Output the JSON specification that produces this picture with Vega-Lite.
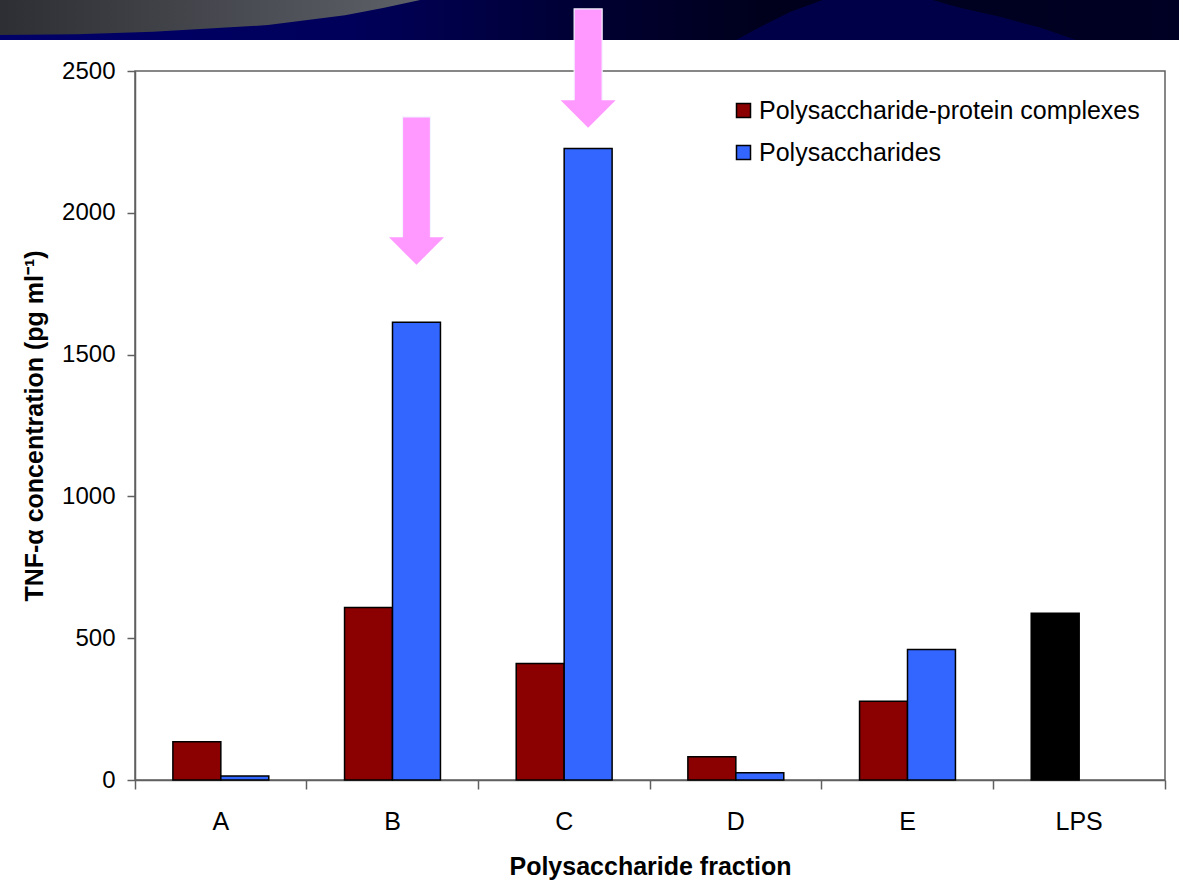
{
  "$schema": "https://vega.github.io/schema/vega-lite/v6.json",
  "width": 1030,
  "height": 709,
  "autosize": {"type": "none"},
  "padding": {"left": 135, "top": 71, "right": 14, "bottom": 101},
  "background": "white",
  "config": {
    "font": "Liberation Sans",
    "view": {"stroke": "#606060", "strokeWidth": 1.5},
    "axis": {
      "domainColor": "#606060", "domainWidth": 1.5,
      "tickColor": "#606060", "tickWidth": 1.5,
      "labelColor": "black", "titleColor": "black",
      "labelFont": "Liberation Sans", "titleFont": "Liberation Sans",
      "grid": false
    }
  },
  "datasets": {
    "bars": [
      {"cat": "A", "slot": "PPC", "series": "Polysaccharide-protein complexes", "value": 135},
      {"cat": "A", "slot": "PS", "series": "Polysaccharides", "value": 14},
      {"cat": "B", "slot": "PPC", "series": "Polysaccharide-protein complexes", "value": 608},
      {"cat": "B", "slot": "PS", "series": "Polysaccharides", "value": 1614},
      {"cat": "C", "slot": "PPC", "series": "Polysaccharide-protein complexes", "value": 411},
      {"cat": "C", "slot": "PS", "series": "Polysaccharides", "value": 2227},
      {"cat": "D", "slot": "PPC", "series": "Polysaccharide-protein complexes", "value": 82},
      {"cat": "D", "slot": "PS", "series": "Polysaccharides", "value": 26},
      {"cat": "E", "slot": "PPC", "series": "Polysaccharide-protein complexes", "value": 278},
      {"cat": "E", "slot": "PS", "series": "Polysaccharides", "value": 460},
      {"cat": "LPS", "slot": "PPC", "series": "LPS", "value": 588}
    ],
    "arrows": [
      {"cat": "B", "slot": "PS", "top": 2338, "base": 1887, "head": 1865},
      {"cat": "C", "slot": "PS", "top": 2719, "base": 2370, "head": 2348}
    ],
    "banner": [{"x1": -140, "x2": 1050, "y1": 2609, "y2": 2760}],
    "swoosh": [
      {"x": -140, "y": 2627, "top": 2760},
      {"x": -58, "y": 2630, "top": 2760},
      {"x": 18, "y": 2638, "top": 2760},
      {"x": 133, "y": 2662, "top": 2760},
      {"x": 210, "y": 2697, "top": 2760},
      {"x": 248, "y": 2722, "top": 2760},
      {"x": 286, "y": 2751, "top": 2760},
      {"x": 290, "y": 2760, "top": 2760}
    ],
    "dome": [
      {"x": 601, "y": 2609, "base": 2609},
      {"x": 625, "y": 2655, "base": 2609},
      {"x": 655, "y": 2708, "base": 2609},
      {"x": 682, "y": 2743, "base": 2609},
      {"x": 695, "y": 2760, "base": 2609},
      {"x": 788, "y": 2760, "base": 2609},
      {"x": 825, "y": 2723, "base": 2609},
      {"x": 865, "y": 2691, "base": 2609},
      {"x": 905, "y": 2653, "base": 2609},
      {"x": 941, "y": 2609, "base": 2609}
    ]
  },
  "layer": [
    {
      "layer": [
        {
          "data": {"name": "banner"},
          "mark": {
            "type": "rect", "clip": false,
            "color": {"gradient": "linear", "x1": 0, "x2": 1, "y1": 0, "y2": 0,
              "stops": [
                {"offset": 0, "color": "#00006a"},
                {"offset": 0.3, "color": "#00005a"},
                {"offset": 0.5, "color": "#000032"},
                {"offset": 0.65, "color": "#00001c"},
                {"offset": 1, "color": "#000024"}
              ]}
          },
          "encoding": {
            "x": {"field": "x1", "type": "quantitative", "scale": {"domain": [0, 1030], "nice": false, "zero": false}, "axis": null},
            "x2": {"field": "x2"},
            "y": {"field": "y1", "type": "quantitative", "scale": {"domain": [0, 2500], "nice": false}, "axis": null},
            "y2": {"field": "y2"}
          }
        },
        {
          "data": {"name": "dome"},
          "mark": {"type": "area", "clip": false, "color": "#000048", "opacity": 1},
          "encoding": {
            "x": {"field": "x", "type": "quantitative", "scale": {"domain": [0, 1030], "nice": false, "zero": false}, "axis": null},
            "y": {"field": "y", "type": "quantitative", "scale": {"domain": [0, 2500], "nice": false}, "axis": null},
            "y2": {"field": "base"}
          }
        },
        {
          "data": {"name": "swoosh"},
          "mark": {
            "type": "area", "clip": false, "opacity": 1,
            "color": {"gradient": "linear", "x1": 0, "x2": 1, "y1": 0, "y2": 0,
              "stops": [
                {"offset": 0, "color": "#2c2e33"},
                {"offset": 1, "color": "#5e6168"}
              ]}
          },
          "encoding": {
            "x": {"field": "x", "type": "quantitative", "scale": {"domain": [0, 1030], "nice": false, "zero": false}, "axis": null},
            "y": {"field": "y", "type": "quantitative", "scale": {"domain": [0, 2500], "nice": false}, "axis": null},
            "y2": {"field": "top"}
          }
        }
      ]
    },
    {
      "layer": [
        {
          "data": {"name": "bars"},
          "mark": {"type": "bar", "stroke": "black", "strokeWidth": 1.5, "clip": false},
          "encoding": {
            "x": {
              "field": "cat", "type": "nominal",
              "scale": {"domain": ["A", "B", "C", "D", "E", "LPS"], "paddingInner": 0, "paddingOuter": 0},
              "title": "Polysaccharide fraction",
              "axis": {
                "labelAngle": 0, "labelFontSize": 25, "labelPadding": 20,
                "tickSize": 9, "bandPosition": 1, "tickExtra": true,
                "titleFontSize": 25, "titleFontWeight": "bold", "titlePadding": 20
              }
            },
            "xOffset": {
              "field": "slot", "type": "nominal",
              "scale": {"domain": ["PPC", "PS"], "paddingInner": 0, "paddingOuter": 0.79}
            },
            "y": {
              "field": "value", "type": "quantitative",
              "scale": {"domain": [0, 2500], "nice": false},
              "title": "TNF-α concentration (pg ml⁻¹)",
              "axis": {
                "values": [0, 500, 1000, 1500, 2000, 2500], "format": "d",
                "labelFontSize": 24, "labelPadding": 12, "tickSize": 8,
                "titleFontSize": 25, "titleFontWeight": "bold", "titlePadding": 14
              }
            },
            "color": {
              "field": "series", "type": "nominal",
              "scale": {
                "domain": ["Polysaccharide-protein complexes", "Polysaccharides", "LPS"],
                "range": ["#8b0000", "#3366ff", "#000000"]
              },
              "legend": {
                "values": ["Polysaccharide-protein complexes", "Polysaccharides"],
                "title": null, "orient": "none", "legendX": 596, "legendY": 27,
                "padding": 0, "symbolType": "square", "symbolSize": 196,
                "symbolStrokeColor": "black", "symbolStrokeWidth": 1.5,
                "symbolOpacity": 1,
                "labelFontSize": 25, "labelColor": "black", "labelOffset": 3,
                "labelFont": "Liberation Sans", "labelLimit": 600,
                "rowPadding": 16
              }
            }
          }
        },
        {
          "data": {"name": "arrows"},
          "mark": {"type": "bar", "color": "#ff99ff", "size": 28, "clip": false, "stroke": "#f4f4ff", "strokeWidth": 1.2},
          "encoding": {
            "x": {"field": "cat", "type": "nominal", "scale": {"domain": ["A", "B", "C", "D", "E", "LPS"], "paddingInner": 0, "paddingOuter": 0}},
            "xOffset": {"field": "slot", "type": "nominal", "scale": {"domain": ["PPC", "PS"], "paddingInner": 0, "paddingOuter": 0.79}},
            "y": {"field": "top", "type": "quantitative", "scale": {"domain": [0, 2500], "nice": false}},
            "y2": {"field": "base"}
          }
        },
        {
          "data": {"name": "arrows"},
          "mark": {"type": "point", "shape": "M-1,-0.5L1,-0.5L0,0.5Z", "filled": true, "size": 3025, "color": "#ff99ff", "opacity": 1, "strokeWidth": 0, "clip": false},
          "encoding": {
            "x": {"field": "cat", "type": "nominal", "scale": {"domain": ["A", "B", "C", "D", "E", "LPS"], "paddingInner": 0, "paddingOuter": 0}},
            "xOffset": {"field": "slot", "type": "nominal", "scale": {"domain": ["PPC", "PS"], "paddingInner": 0, "paddingOuter": 0.79}},
            "y": {"field": "head", "type": "quantitative", "scale": {"domain": [0, 2500], "nice": false}}
          }
        }
      ]
    }
  ],
  "resolve": {"scale": {"x": "independent", "y": "independent"}}
}
